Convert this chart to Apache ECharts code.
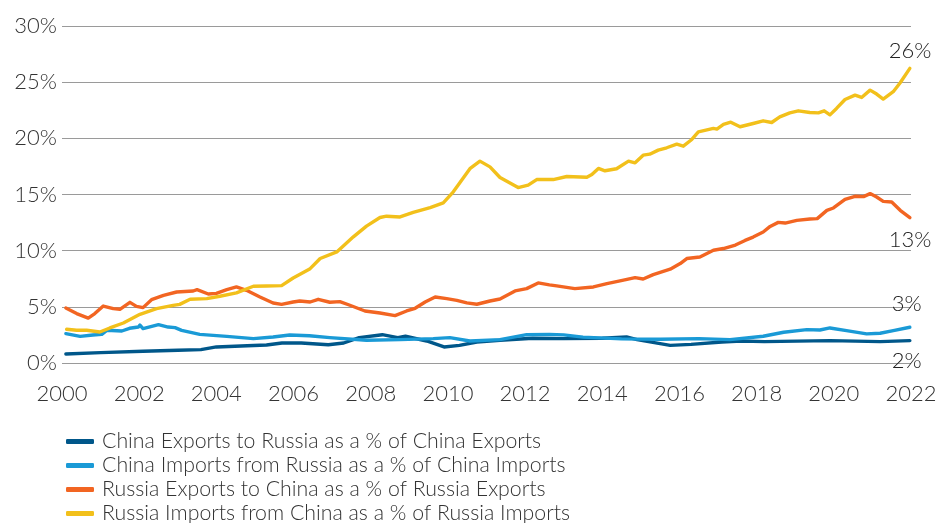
<!DOCTYPE html>
<html>
<head>
<meta charset="utf-8">
<script src="https://cdn.jsdelivr.net/npm/echarts@6/dist/echarts.min.js"></script>
<style>
  html, body { margin: 0; padding: 0; background: #fff; }
  #trade-chart { width: 952px; height: 523px; }
</style>
</head>
<body>
<div id="trade-chart"></div>
<script>
var seriesNames = [
  'China Exports to Russia as a % of China Exports',
  'China Imports from Russia as a % of China Imports',
  'Russia Exports to China as a % of Russia Exports',
  'Russia Imports from China as a % of Russia Imports'
];
var seriesColors = ['#00578a', '#1a9ad6', '#f26522', '#f2c01b'];

// China exports to Russia
var cnExpYears = [2000.1, 2001.0, 2002.1, 2003.0, 2003.6, 2004.0, 2004.8, 2005.3, 2005.7, 2006.2,
  2006.9, 2007.3, 2007.7, 2008.3, 2008.7, 2008.9, 2009.45, 2009.9, 2010.3, 2010.75,
  2011.35, 2012.2, 2013.0, 2014.0, 2014.63, 2014.9, 2015.76, 2016.3, 2017.1, 2017.6,
  2018.2, 2019.9, 2021.2, 2021.97];
var cnExpValues = [0.8, 0.92, 1.04, 1.13, 1.19, 1.43, 1.54, 1.6, 1.78, 1.78,
  1.63, 1.78, 2.26, 2.52, 2.26, 2.38, 1.96, 1.43, 1.57, 1.87,
  2.02, 2.2, 2.17, 2.2, 2.32, 2.08, 1.57, 1.66, 1.87, 1.96,
  1.9, 1.99, 1.9, 1.99];

// China imports from Russia
var cnImpYears = [2000.1, 2000.47, 2000.8, 2001.03, 2001.16, 2001.55, 2001.75, 2001.98, 2002.02, 2002.1,
  2002.5, 2002.75, 2002.93, 2003.1, 2003.57, 2004.27, 2004.96, 2005.47, 2005.9, 2006.41,
  2006.94, 2007.89, 2008.76, 2009.62, 2010.05, 2010.57, 2011.35, 2012.04, 2012.63, 2013.0,
  2013.5, 2014.5, 2015.5, 2016.5, 2017.31, 2018.17, 2018.7, 2019.3, 2019.64, 2019.9,
  2020.33, 2020.85, 2021.2, 2021.54, 2021.97];
var cnImpValues = [2.61, 2.37, 2.49, 2.55, 2.91, 2.85, 3.09, 3.2, 3.38, 3.06,
  3.42, 3.2, 3.15, 2.91, 2.55, 2.37, 2.17, 2.32, 2.49, 2.43,
  2.26, 2.02, 2.08, 2.17, 2.26, 1.96, 2.08, 2.52, 2.55, 2.5,
  2.3, 2.15, 2.12, 2.17, 2.08, 2.38, 2.74, 2.97, 2.94, 3.12,
  2.88, 2.59, 2.65, 2.88, 3.18];

// Russia exports to China
var ruExpYears = [2000.1, 2000.38, 2000.68, 2000.85, 2001.07, 2001.33, 2001.5, 2001.76, 2001.93, 2002.1,
  2002.32, 2002.63, 2002.97, 2003.4, 2003.5, 2003.79, 2004.0, 2004.27, 2004.52, 2004.78,
  2005.13, 2005.47, 2005.69, 2005.99, 2006.16, 2006.43, 2006.64, 2006.94, 2007.2, 2007.46,
  2007.85, 2008.24, 2008.63, 2008.93, 2009.15, 2009.41, 2009.67, 2009.97, 2010.23, 2010.49,
  2010.75, 2011.09, 2011.35, 2011.74, 2012.04, 2012.34, 2012.63, 2012.82, 2013.29, 2013.77,
  2014.12, 2014.46, 2014.85, 2015.06, 2015.32, 2015.76, 2016.02, 2016.19, 2016.53, 2016.88,
  2017.14, 2017.45, 2017.7, 2017.91, 2018.17, 2018.35, 2018.56, 2018.74, 2019.04, 2019.38,
  2019.57, 2019.82, 2019.99, 2020.29, 2020.55, 2020.77, 2020.94, 2021.11, 2021.28, 2021.5,
  2021.72, 2021.97];
var ruExpValues = [4.9, 4.4, 4.0, 4.4, 5.07, 4.84, 4.78, 5.4, 5.04, 4.93,
  5.64, 6.02, 6.32, 6.41, 6.53, 6.14, 6.2, 6.53, 6.77, 6.47,
  5.88, 5.34, 5.22, 5.43, 5.52, 5.43, 5.67, 5.41, 5.46, 5.14,
  4.63, 4.45, 4.22, 4.63, 4.87, 5.43, 5.88, 5.73, 5.58, 5.35,
  5.23, 5.52, 5.7, 6.42, 6.62, 7.13, 6.95, 6.86, 6.62, 6.77,
  7.07, 7.31, 7.6, 7.48, 7.87, 8.35, 8.85, 9.3, 9.44, 10.04,
  10.19, 10.5, 10.91, 11.21, 11.66, 12.16, 12.52, 12.46, 12.7, 12.82,
  12.85, 13.59, 13.8, 14.57, 14.84, 14.81, 15.08, 14.78, 14.39, 14.33,
  13.59, 12.94];

// Russia imports from China
var ruImpYears = [2000.12, 2000.38, 2000.64, 2000.98, 2001.24, 2001.59, 2002.02, 2002.45, 2002.88, 2003.05,
  2003.32, 2003.75, 2004.09, 2004.52, 2004.96, 2005.3, 2005.69, 2005.99, 2006.43, 2006.69,
  2007.12, 2007.55, 2007.89, 2008.24, 2008.41, 2008.76, 2009.1, 2009.54, 2009.88, 2010.14,
  2010.57, 2010.83, 2011.09, 2011.35, 2011.82, 2012.08, 2012.3, 2012.73, 2013.08, 2013.6,
  2013.73, 2013.9, 2014.07, 2014.37, 2014.68, 2014.85, 2015.06, 2015.23, 2015.45, 2015.67,
  2015.93, 2016.1, 2016.32, 2016.49, 2016.88, 2016.97, 2017.14, 2017.33, 2017.57, 2017.91,
  2018.17, 2018.39, 2018.6, 2018.86, 2019.08, 2019.38, 2019.6, 2019.75, 2019.9, 2020.07,
  2020.29, 2020.55, 2020.72, 2020.94, 2021.11, 2021.28, 2021.54, 2021.72, 2021.97];
var ruImpValues = [3.0, 2.91, 2.91, 2.76, 3.12, 3.56, 4.33, 4.84, 5.13, 5.22,
  5.67, 5.73, 5.94, 6.24, 6.83, 6.86, 6.89, 7.57, 8.4, 9.3,
  9.89, 11.23, 12.18, 12.95, 13.07, 13.0, 13.4, 13.84, 14.26, 15.24,
  17.3, 17.97, 17.46, 16.51, 15.62, 15.83, 16.33, 16.33, 16.6, 16.54,
  16.78, 17.32, 17.11, 17.29, 17.97, 17.82, 18.5, 18.59, 18.95, 19.16,
  19.48, 19.3, 19.9, 20.58, 20.88, 20.82, 21.24, 21.44, 21.03, 21.32,
  21.56, 21.41, 21.91, 22.27, 22.45, 22.3, 22.27, 22.45, 22.09, 22.66,
  23.46, 23.85, 23.64, 24.29, 23.94, 23.49, 24.15, 24.95, 26.23];

var yearTicks = { min: 2000, max: 2022, interval: 2 };
var pctTicks = { min: 0, max: 30, interval: 5 };

// where each end label sits relative to the line end
var endOffsets = [[-26, 20], [-26, -23], [-29, 22], [-29, -17]];

var FONT = 'Lato';

function pairs(xs, ys) {
  var out = [];
  for (var i = 0; i < xs.length; i++) out.push([xs[i], ys[i]]);
  return out;
}

(function() {
  var chart = echarts.init(document.getElementById('trade-chart'));
  var allData = [
    pairs(cnExpYears, cnExpValues),
    pairs(cnImpYears, cnImpValues),
    pairs(ruExpYears, ruExpValues),
    pairs(ruImpYears, ruImpValues)
  ];

  var series = [];
  for (var i = 0; i < allData.length; i++) {
    series.push({
      name: seriesNames[i],
      type: 'line',
      data: allData[i],
      showSymbol: false,
      smooth: false,
      z: 2 + i,
      lineStyle: { color: seriesColors[i], width: 3.4, cap: 'round', join: 'round' },
      itemStyle: { color: seriesColors[i] },
      endLabel: {
        show: true,
        formatter: function(p) { return Math.round(p.value[1]) + '%'; },
        offset: endOffsets[i],
        color: '#222',
        fontFamily: FONT,
        fontWeight: 300,
        fontSize: 22
      }
    });
  }

  var option = {
    animation: false,
    grid: { left: 62, right: 41, top: 26, bottom: 160 },
    legend: {
      orient: 'vertical',
      left: 61,
      top: 426,
      height: 120,
      icon: 'roundRect',
      itemWidth: 28,
      itemHeight: 5,
      itemGap: 3,
      data: seriesNames,
      textStyle: { color: '#333', fontFamily: FONT, fontWeight: 300, fontSize: 21.3, lineHeight: 21, padding: [0, 0, 0, 3] }
    },
    xAxis: {
      type: 'value',
      min: yearTicks.min,
      max: yearTicks.max,
      interval: yearTicks.interval,
      axisLine: { show: false },
      axisTick: { show: false },
      splitLine: { show: false },
      axisLabel: {
        margin: 20,
        color: '#333',
        fontFamily: FONT,
        fontWeight: 300,
        fontSize: 22,
        formatter: function(v) { return String(v); }
      }
    },
    yAxis: {
      type: 'value',
      min: pctTicks.min,
      max: pctTicks.max,
      interval: pctTicks.interval,
      axisLine: { show: false },
      axisTick: { show: false },
      splitLine: { lineStyle: { color: '#9a9a9a', width: 1.2 } },
      axisLabel: {
        margin: 5,
        color: '#333',
        fontFamily: FONT,
        fontWeight: 300,
        fontSize: 22,
        formatter: '{value}%'
      }
    },
    series: series
  };
  chart.setOption(option);
})();
</script>
</body>
</html>
